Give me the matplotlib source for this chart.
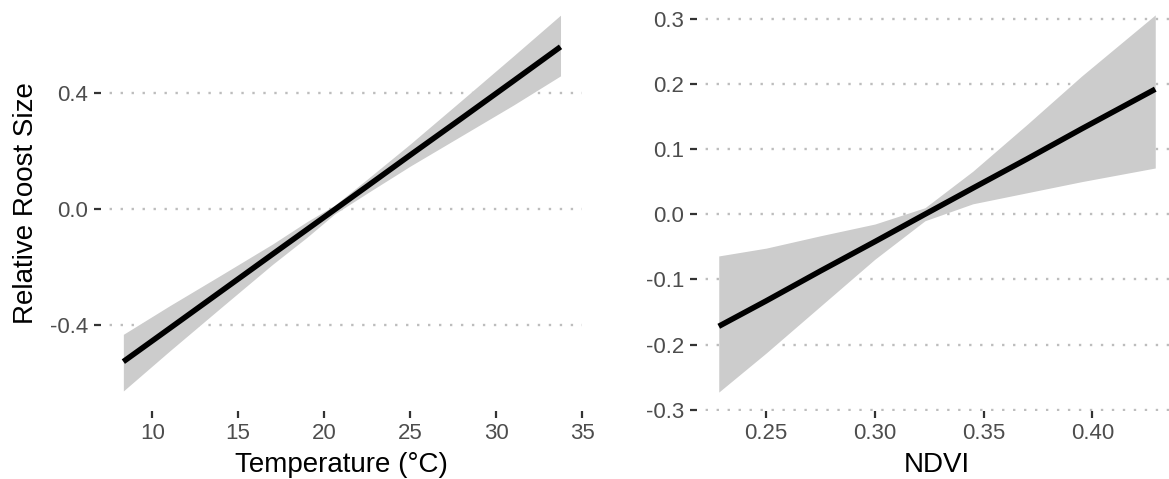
import matplotlib
matplotlib.use("Agg")
import matplotlib.pyplot as plt

plt.rcParams['font.family'] = ['Liberation Sans', 'DejaVu Sans']

# Temperature effect (left panel)
temp_x = [8.32, 11.0, 14.0, 17.0, 19.0, 20.6, 22.5, 25.0, 28.0, 31.0, 33.75]
temp_fit = [-0.525, -0.411, -0.283, -0.155, -0.070, -0.002, 0.079, 0.186, 0.313, 0.441, 0.559]
temp_lo = [-0.626, -0.489, -0.339, -0.190, -0.097, -0.017, 0.055, 0.148, 0.253, 0.358, 0.459]
temp_hi = [-0.431, -0.333, -0.227, -0.120, -0.043, 0.013, 0.103, 0.224, 0.375, 0.527, 0.668]
temp_xticks = [10, 15, 20, 25, 30, 35]
temp_yticks = [-0.4, 0.0, 0.4]

# NDVI effect (right panel)
ndvi_x = [0.2282, 0.25, 0.275, 0.30, 0.323, 0.345, 0.37, 0.395, 0.4289]
ndvi_fit = [-0.172, -0.133, -0.087, -0.042, 0.000, 0.040, 0.085, 0.131, 0.192]
ndvi_lo = [-0.273, -0.213, -0.141, -0.069, -0.010, 0.016, 0.033, 0.050, 0.071]
ndvi_hi = [-0.064, -0.052, -0.033, -0.015, 0.010, 0.066, 0.138, 0.212, 0.306]
ndvi_xticks = [0.25, 0.30, 0.35, 0.40]
ndvi_yticks = [-0.3, -0.2, -0.1, 0.0, 0.1, 0.2, 0.3]

W, H = 1169, 479
fig = plt.figure(figsize=(W / 100, H / 100), dpi=100)


def px_axes(x0, x1, y0, y1):
    # y measured from top of image
    return fig.add_axes([x0 / W, 1 - y1 / H, (x1 - x0) / W, (y1 - y0) / H])


def style(ax, xticks, yticks, xfmt, yfmt):
    for s in ax.spines.values():
        s.set_visible(False)
    ax.set_xticks(xticks)
    ax.set_xticklabels([xfmt.format(v) for v in xticks])
    ax.set_yticks(yticks)
    ax.set_yticklabels([yfmt.format(v) for v in yticks])
    ax.tick_params(axis='both', length=4.8, width=1.6, color='#333333',
                   labelcolor='#4D4D4D', labelsize=16)
    ax.tick_params(axis='x', pad=3.5)
    ax.tick_params(axis='y', pad=4.5)
    ax.grid(False)
    for v in yticks:
        ax.axhline(v, color='#BDBDBD', lw=1.7, ls=(1, (1, 3.65)), zorder=0)


ax1 = px_axes(101, 582, -4, 411)
ax1.fill_between(temp_x, temp_lo, temp_hi, color='#CCCCCC', lw=0, zorder=1)
ax1.plot(temp_x, temp_fit, color='black', lw=4, solid_capstyle='butt', zorder=2)
ax1.set_xlim(7.02, 34.96)
ax1.set_ylim(-0.695, 0.734)
style(ax1, temp_xticks, temp_yticks, '{:d}', '{:.1f}')
ax1.set_xlabel('Temperature (°C)', fontsize=20, labelpad=6)
ax1.set_ylabel('Relative Roost Size', fontsize=20, labelpad=7.5)

ax2 = px_axes(697, 1177, -4, 411)
ax2.fill_between(ndvi_x, ndvi_lo, ndvi_hi, color='#CCCCCC', lw=0, zorder=1)
ax2.plot(ndvi_x, ndvi_fit, color='black', lw=4, solid_capstyle='butt', zorder=2)
ax2.set_xlim(0.2182, 0.4389)
ax2.set_ylim(-0.302, 0.335)
style(ax2, ndvi_xticks, ndvi_yticks, '{:.2f}', '{:.1f}')
ax2.set_xlabel('NDVI', fontsize=20, labelpad=6)

fig.savefig('out.png', dpi=100)
